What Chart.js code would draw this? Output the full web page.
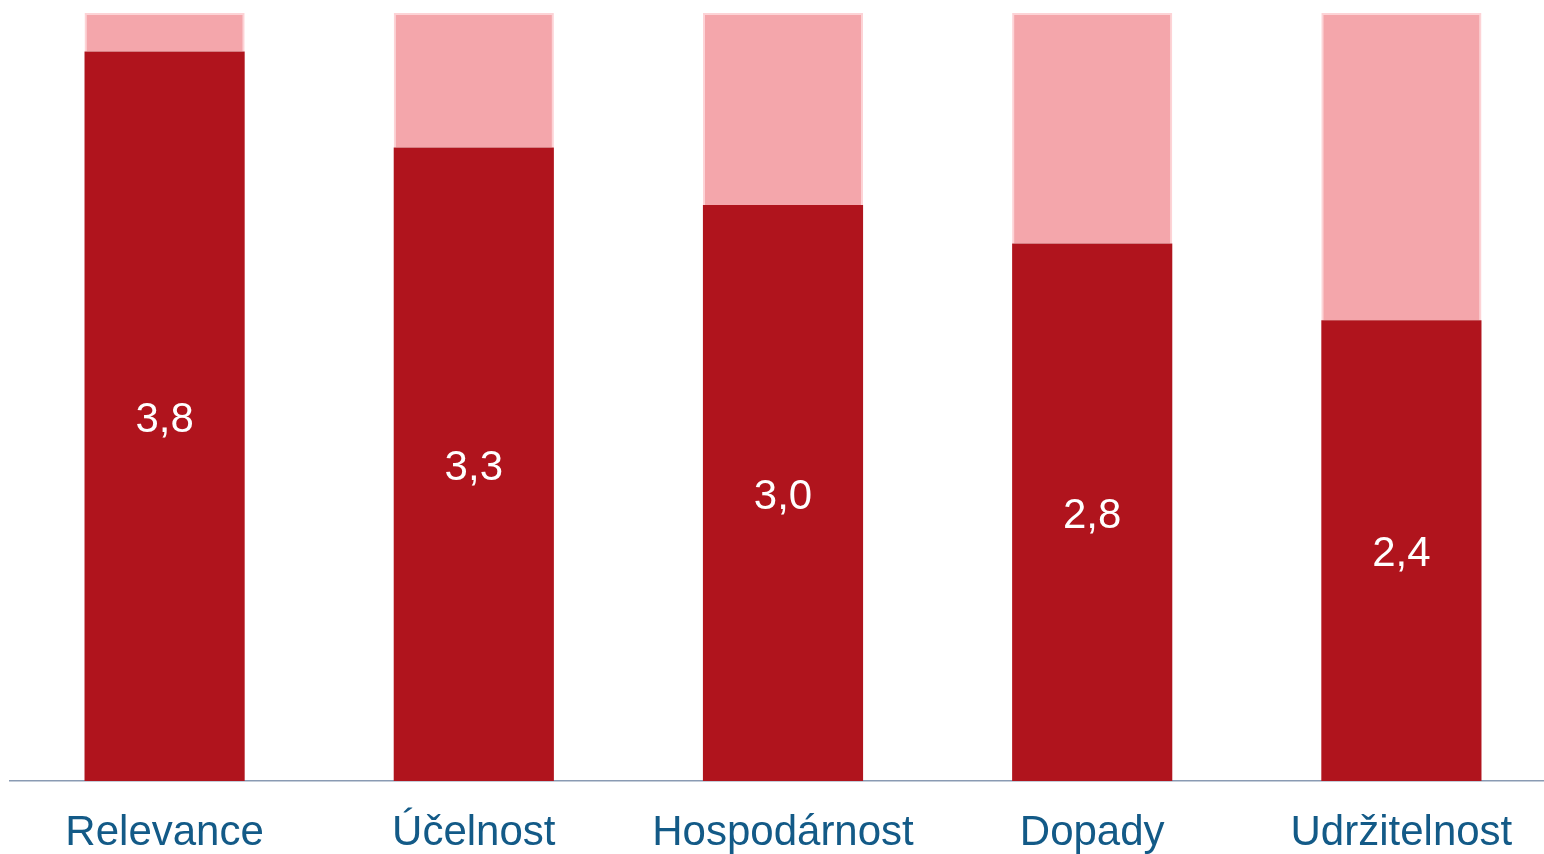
<!DOCTYPE html>
<html>
<head>
<meta charset="utf-8">
<script src="https://cdn.jsdelivr.net/npm/chart.js@4/dist/chart.umd.min.js"></script>
<style>
  html, body { margin: 0; padding: 0; background: #fff; overflow: hidden; }
  #wrap { width: 1556px; height: 854px; }
</style>
</head>
<body>
<div id="wrap"><canvas id="myChart"></canvas></div>
<script>
// Chart data
const categories = ['Relevance', 'Účelnost', 'Hospodárnost', 'Dopady', 'Udržitelnost'];
const scores = [3.8, 3.3, 3.0, 2.8, 2.4];
const remainder = [0.2, 0.7, 1.0, 1.2, 1.6];
const maxScore = 4;

// White value labels centred in the dark bars
const valueLabels = {
    id: 'valueLabels',
    afterDatasetsDraw(chart) {
        const ctx = chart.ctx;
        const meta = chart.getDatasetMeta(0);
        ctx.save();
        ctx.fillStyle = '#ffffff';
        ctx.font = '42px "Liberation Sans", Arial, sans-serif';
        ctx.textAlign = 'center';
        ctx.textBaseline = 'middle';
        meta.data.forEach((bar, i) => {
            const text = scores[i].toFixed(1).replace('.', ',');
            ctx.fillText(text, bar.x, (bar.y + bar.base) / 2 + 4);
        });
        ctx.restore();
    }
};

document.addEventListener('DOMContentLoaded', () => {
    const ctx = document.getElementById('myChart').getContext('2d');
    new Chart(ctx, {
        type: 'bar',
        data: {
            labels: categories,
            datasets: [{
                label: 'Hodnocení',
                data: scores,
                backgroundColor: '#b0141d',
                borderWidth: 0,
                categoryPercentage: 1,
                barPercentage: 0.518
            }, {
                label: 'Zbytek',
                data: remainder,
                backgroundColor: '#f4a6ab',
                borderColor: '#fdd3d6',
                borderWidth: 2,
                categoryPercentage: 1,
                barPercentage: 0.518
            }]
        },
        options: {
            responsive: true,
            maintainAspectRatio: false,
            animation: false,
            layout: { padding: { left: 10, right: 0, top: 13, bottom: 0 } },
            plugins: {
                legend: { display: false },
                tooltip: { enabled: false }
            },
            scales: {
                x: {
                    stacked: true,
                    grid: { display: false, drawTicks: false },
                    border: { display: true, color: '#8a9bb3', width: 1.5 },
                    ticks: {
                        color: '#135a87',
                        padding: 27,
                        maxRotation: 0,
                        font: { family: '"Liberation Sans", Arial, sans-serif', size: 42 }
                    },
                    afterFit(scale) { scale.height = 73; }
                },
                y: {
                    stacked: true,
                    display: false,
                    min: 0,
                    max: maxScore
                }
            }
        },
        plugins: [valueLabels]
    });
});
</script>
</body>
</html>
